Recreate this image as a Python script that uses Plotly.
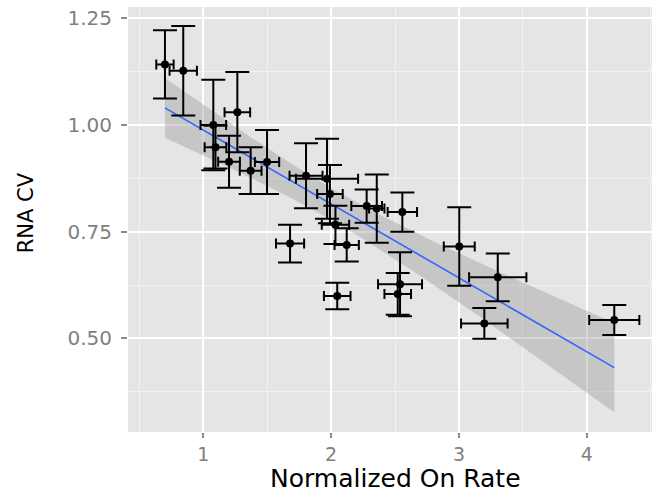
import numpy as np
import plotly.graph_objects as go

# ---- data ----
on_rate = [0.701, 0.844, 1.267, 1.079, 1.096, 1.202, 1.371, 1.499, 1.804, 1.968,
           1.991, 2.034, 2.122, 1.679, 2.048, 2.278, 2.357, 2.557, 2.539, 2.521,
           3.002, 3.303, 3.198, 4.214]
on_rate_err = [0.068, 0.107, 0.100, 0.100, 0.085, 0.085, 0.085, 0.095, 0.129, 0.243,
               0.100, 0.107, 0.095, 0.110, 0.104, 0.120, 0.060, 0.115, 0.172, 0.104,
               0.121, 0.224, 0.182, 0.196]
rna_cv = [1.142, 1.127, 1.030, 1.000, 0.948, 0.914, 0.893, 0.913, 0.881, 0.874,
          0.838, 0.766, 0.719, 0.722, 0.599, 0.810, 0.804, 0.796, 0.627, 0.604,
          0.715, 0.643, 0.535, 0.543]
rna_cv_err = [0.080, 0.105, 0.094, 0.106, 0.050, 0.061, 0.055, 0.075, 0.076, 0.094,
              0.068, 0.045, 0.039, 0.044, 0.031, 0.039, 0.080, 0.046, 0.075, 0.049,
              0.092, 0.056, 0.036, 0.035]

x_ticks = [1, 2, 3, 4]
x_tick_labels = ["1", "2", "3", "4"]
y_ticks = [0.50, 0.75, 1.00, 1.25]
y_tick_labels = ["0.50", "0.75", "1.00", "1.25"]

# ---- linear fit with 95% confidence band (like geom_smooth(method="lm")) ----
x = np.array(on_rate)
y = np.array(rna_cv)
n = len(x)
slope, intercept = np.polyfit(x, y, 1)
resid = y - (slope * x + intercept)
s = np.sqrt(np.sum(resid ** 2) / (n - 2))
xm = x.mean()
sxx = np.sum((x - xm) ** 2)
t_crit = 2.0739  # t(0.975, df=22)
xf = np.linspace(x.min(), x.max(), 80)
yf = slope * xf + intercept
se = s * np.sqrt(1.0 / n + (xf - xm) ** 2 / sxx)
upper = yf + t_crit * se
lower = yf - t_crit * se

fig = go.Figure()

fig.add_trace(go.Scatter(
    x=np.concatenate([xf, xf[::-1]]),
    y=np.concatenate([upper, lower[::-1]]),
    fill="toself", fillcolor="rgba(153,153,153,0.4)",
    line=dict(width=0), hoverinfo="skip", showlegend=False, mode="lines"))

fig.add_trace(go.Scatter(
    x=xf, y=yf, mode="lines", line=dict(color="#3366FF", width=1.6),
    showlegend=False))

fig.add_trace(go.Scatter(
    x=on_rate, y=rna_cv, mode="markers",
    marker=dict(color="black", size=8),
    error_x=dict(type="data", array=on_rate_err, color="black", thickness=2, width=5),
    error_y=dict(type="data", array=rna_cv_err, color="black", thickness=2, width=12),
    showlegend=False))

fig.update_layout(
    width=652, height=494,
    margin=dict(l=128, r=0, t=7, b=62),
    paper_bgcolor="white",
    plot_bgcolor="#E5E5E5",
    xaxis=dict(
        range=[0.412, 4.509], tickvals=x_ticks, ticktext=x_tick_labels,
        showgrid=True, gridcolor="white", gridwidth=2,
        minor=dict(dtick=0.5, tick0=0, showgrid=True, gridcolor="#F2F2F2", gridwidth=1),
        ticks="outside", ticklen=5, tickwidth=1.5, tickcolor="#8C8C8C",
        tickfont=dict(family="DejaVu Sans", size=19, color="#808080"),
        zeroline=False, showline=False),
    yaxis=dict(
        range=[0.2805, 1.2765], tickvals=y_ticks, ticktext=y_tick_labels,
        showgrid=True, gridcolor="white", gridwidth=2,
        minor=dict(dtick=0.125, tick0=0, showgrid=True, gridcolor="#F2F2F2", gridwidth=1),
        ticks="outside", ticklen=6, tickwidth=1.5, tickcolor="#8C8C8C",
        ticklabelstandoff=5,
        tickfont=dict(family="DejaVu Sans", size=20, color="#808080"),
        zeroline=False, showline=False),
    annotations=[
        dict(text="Normalized On Rate", xref="paper", yref="paper",
             x=0.5105, y=-0.1455, xanchor="center", yanchor="bottom", borderpad=0,
             showarrow=False, font=dict(family="DejaVu Sans", size=25, color="black")),
        dict(text="RNA CV", xref="paper", yref="paper", textangle=-90,
             x=-0.193, y=0.5165, xanchor="center", yanchor="middle",
             showarrow=False, font=dict(family="DejaVu Sans", size=21, color="black")),
    ],
)

fig.write_html("out.html")
